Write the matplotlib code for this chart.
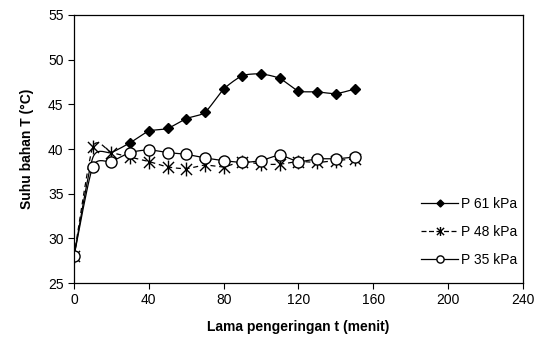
import numpy as np
import matplotlib
matplotlib.use("Agg")
import matplotlib.pyplot as plt
from matplotlib.path import Path

plt.rcParams['font.family'] = ['Liberation Sans', 'DejaVu Sans']

time_min = [0, 10, 20, 30, 40, 50, 60, 70, 80, 90, 100, 110, 120, 130, 140, 150]
p61 = [28.0, 39.0, 39.6, 40.7, 42.0, 42.3, 43.4, 44.1, 46.7, 48.2, 48.4, 47.9, 46.5, 46.4, 46.2, 46.7]
p48 = [28.0, 40.2, 39.6, 39.1, 38.6, 38.0, 37.8, 38.2, 38.0, 38.6, 38.3, 38.3, 38.6, 38.5, 38.7, 38.9]
p35 = [28.0, 38.0, 38.6, 39.6, 39.9, 39.6, 39.4, 39.0, 38.7, 38.5, 38.7, 39.3, 38.6, 38.9, 38.9, 39.1]
labels = ["P 61 kPa", "P 48 kPa", "P 35 kPa"]


def smooth(x, y, n=20, t=0.35):
    x = np.asarray(x, float); y = np.asarray(y, float)
    xs, ys = [], []
    m = len(x)
    for i in range(m - 1):
        p0 = np.array([x[max(i - 1, 0)], y[max(i - 1, 0)]])
        p1 = np.array([x[i], y[i]])
        p2 = np.array([x[i + 1], y[i + 1]])
        p3 = np.array([x[min(i + 2, m - 1)], y[min(i + 2, m - 1)]])
        c1 = p1 + (p2 - p0) * t / 3
        c2 = p2 - (p3 - p1) * t / 3
        s = np.linspace(0, 1, n)[:, None]
        pts = (1 - s) ** 3 * p1 + 3 * (1 - s) ** 2 * s * c1 + 3 * (1 - s) * s ** 2 * c2 + s ** 3 * p2
        xs.extend(pts[:, 0]); ys.extend(pts[:, 1])
    return xs, ys

star = Path([(0, -1), (0, 1), (-0.8, -0.8), (0.8, 0.8), (-0.8, 0.8), (0.8, -0.8)],
            [Path.MOVETO, Path.LINETO, Path.MOVETO, Path.LINETO, Path.MOVETO, Path.LINETO])

fig = plt.figure(figsize=(5.43, 3.47), dpi=100)
ax = fig.add_axes([0.1363, 0.1844, 0.8267, 0.7724])

all_idx = list(range(len(time_min)))
styles = [
    dict(data=p61, ls='-', marker='D', ms=5.5, mfc='black', mec='black',
         every=[0] + all_idx[3:]),
    dict(data=p48, ls=(0, (4, 3)), marker=star, ms=10, mfc='none', mec='black', every=all_idx),
    dict(data=p35, ls='-', marker='o', ms=8, mfc='white', mec='black', every=all_idx),
]
handles = []
for st, lab in zip(styles, labels):
    sx, sy = smooth(time_min, st['data'])
    ax.plot(sx, sy, color='black', lw=0.9, ls=st['ls'])
    ax.plot(time_min, st['data'], ls='none', marker=st['marker'], ms=st['ms'],
            mfc=st['mfc'], mec=st['mec'], mew=1.0, markevery=st['every'])
    h, = ax.plot([], [], color='black', lw=0.9, ls='-' if st['ls'] == '-' else (0, (4, 2)),
                 marker=st['marker'], ms=st['ms'] * 0.65, mfc=st['mfc'], mec=st['mec'])
    handles.append(h)

ax.set_xlim(0, 240)
ax.set_ylim(25, 55)
ax.set_xticks(np.arange(0, 241, 40))
ax.set_yticks(np.arange(25, 56, 5))
ax.tick_params(direction='out', length=4, width=0.8, labelsize=10, colors='black')
for sp in ax.spines.values():
    sp.set_linewidth(0.9)
ax.set_xlabel("Lama pengeringan t (menit)", fontsize=10, fontweight='bold', labelpad=9)
ax.set_ylabel("Suhu bahan T (°C)", fontsize=10, fontweight='bold', labelpad=10)

ax.legend(handles, labels, loc='center left', bbox_to_anchor=(0.753, 0.331),
          bbox_transform=fig.transFigure, frameon=False,
          fontsize=10, handlelength=2.66, labelspacing=1.0, handletextpad=0.2)

fig.savefig("out.png", dpi=100)
